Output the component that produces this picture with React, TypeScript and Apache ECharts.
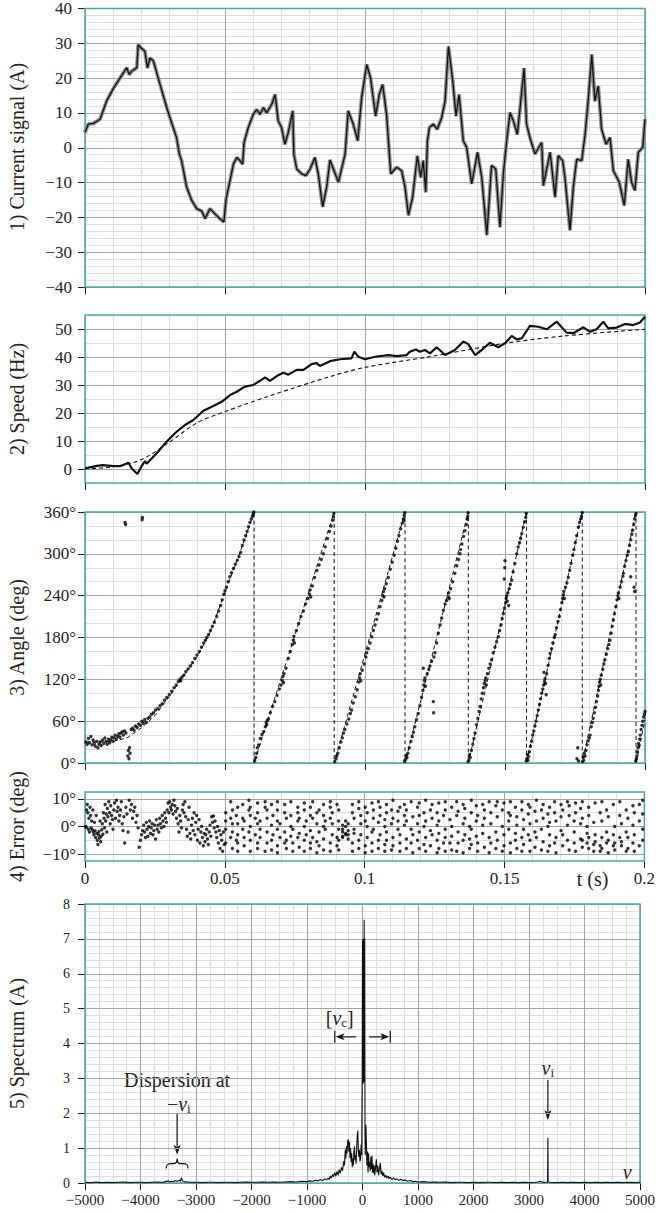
import { useEffect, useRef } from 'react';
import * as echarts from 'echarts';

// ---------------- data ----------------
// 1) current signal (t [s], A)
const currentSignal: [number, number][] = [
  [0, 4.4], [0.0012, 6.8], [0.003, 7.0], [0.0054, 8.2], [0.0077, 13.4], [0.0101, 17], [0.0125, 20], [0.0149, 23],
  [0.0158, 21], [0.0167, 22], [0.0185, 23], [0.019, 29.6], [0.0196, 29], [0.0214, 27.7], [0.0223, 22.9], [0.0232, 25.8],
  [0.0244, 25], [0.0268, 18.2], [0.0292, 11.5], [0.0315, 5.8], [0.0327, 2.9], [0.0337, -1.8], [0.0345, -3.7],
  [0.0363, -11.3], [0.0381, -15.1], [0.0399, -17.5], [0.0417, -18.2], [0.0429, -20.4], [0.0446, -17.5], [0.0464, -19],
  [0.0482, -20.4], [0.0496, -21.3], [0.0504, -14.7], [0.0518, -9.4], [0.053, -4.7], [0.0542, -2.8], [0.0554, -3.7],
  [0.0563, -4.7], [0.0568, 1.5], [0.0583, 5.8], [0.0601, 9.6], [0.0613, 11], [0.0625, 9.6], [0.0637, 11.5], [0.0649, 10],
  [0.0667, 12.5], [0.0679, 15.3], [0.069, 7.7], [0.0702, 5.8], [0.0714, 1], [0.0726, 4.4], [0.0742, 10.6], [0.0746, -1.8],
  [0.0756, -6.1], [0.0774, -7.5], [0.0789, -8], [0.0804, -6.1], [0.0821, -2.8], [0.0833, -7.5], [0.0849, -17],
  [0.0863, -11.3], [0.0875, -3.5], [0.0905, -9.9], [0.0929, -1.8], [0.094, 10.6], [0.0958, 6.8], [0.0974, 2],
  [0.0988, 14.4], [0.1006, 23.9], [0.102, 20], [0.1038, 9.1], [0.1051, 15.3], [0.1063, 18.2], [0.1077, 9.6],
  [0.1092, -7.5], [0.1113, -5.6], [0.1131, -6.6], [0.1143, -11.3], [0.1155, -19.4], [0.117, -14.2], [0.1187, -2.3],
  [0.1199, -8.5], [0.1208, -3.7], [0.1217, -12.8], [0.1223, 2], [0.123, 5.8], [0.1244, 6.8], [0.1258, 5.3], [0.1274, 8.7],
  [0.1286, 13.4], [0.1298, 29.1], [0.1313, 19.5], [0.1325, 9.1], [0.1336, 15.3], [0.1351, 2], [0.1363, 0.1],
  [0.1381, -10.4], [0.1402, -1.3], [0.1417, -8.5], [0.1435, -25.1], [0.1452, -5.1], [0.1467, -6.1], [0.1482, -22.8],
  [0.1494, -7.5], [0.1506, 2], [0.1518, 10.1], [0.153, 7.7], [0.1544, 3.8], [0.1554, 11.5], [0.1568, 22.9], [0.1577, 6.8],
  [0.1589, 2.9], [0.1607, -1.8], [0.1631, 1.5], [0.1637, -10.9], [0.1661, -1.3], [0.1679, -14.2], [0.169, -2.3],
  [0.1706, -3.7], [0.1714, -8.5], [0.1732, -23.7], [0.1744, -11.3], [0.1756, -3.3], [0.1774, -3.7], [0.1786, 3.8],
  [0.1798, 14.4], [0.181, 26.8], [0.1821, 13.4], [0.1833, 17.7], [0.1845, 5.3], [0.1861, 1], [0.1875, 2.9],
  [0.1887, -6.6], [0.1908, -9.9], [0.1926, -16.6], [0.194, -3.3], [0.1952, -9.9], [0.1964, -12.3], [0.1976, -1.3],
  [0.1992, 0.1], [0.2, 8.2],
];

// 2) speed (Hz): estimated and reference
const speedEstimated: [number, number][] = [
  [0, 0.2], [0.0042, 1.1], [0.0065, 1.4], [0.0101, 1.0], [0.0125, 1.0], [0.0149, 2.0], [0.0155, 2.3], [0.0167, 0.2],
  [0.0187, -1.8], [0.0202, 1.0], [0.0214, 2.8], [0.022, 1.9], [0.0256, 5.6], [0.0292, 9.8], [0.0327, 13.3],
  [0.0357, 15.7], [0.0387, 17.5], [0.0423, 20.8], [0.0458, 22.5], [0.0488, 24.0], [0.0518, 26.4], [0.0542, 27.6],
  [0.0571, 29.4], [0.0601, 30.0], [0.0625, 31.5], [0.0643, 32.7], [0.0661, 31.5], [0.0685, 33.2], [0.0708, 34.4],
  [0.0726, 33.7], [0.0756, 35.4], [0.078, 35.4], [0.081, 37.5], [0.0827, 37.8], [0.0839, 36.8], [0.0875, 38.5],
  [0.0911, 39.2], [0.0952, 39.5], [0.0962, 41.9], [0.0976, 40.1], [0.1, 39.2], [0.1036, 40.1], [0.1083, 40.7],
  [0.1113, 40.3], [0.1149, 40.7], [0.116, 41.9], [0.1182, 42.7], [0.1196, 41.9], [0.1214, 42.5], [0.1232, 41.3],
  [0.1256, 43.5], [0.1286, 40.7], [0.1321, 42.5], [0.1351, 45.5], [0.1369, 44.6], [0.1393, 40.7], [0.1417, 42.5],
  [0.1446, 45.1], [0.1476, 43.5], [0.15, 44.9], [0.1524, 47.5], [0.1542, 46.3], [0.156, 46.7], [0.1589, 51.1],
  [0.1619, 50.8], [0.1649, 49.9], [0.1685, 52.6], [0.172, 48.7], [0.1744, 48.5], [0.178, 50.6], [0.1804, 49.0],
  [0.1827, 49.9], [0.1851, 52.6], [0.1869, 50.2], [0.1899, 50.5], [0.1929, 51.8], [0.1958, 51.4], [0.1982, 52.3],
  [0.2, 54.4],
];
const speedReference: [number, number][] = [
  [0, 0], [0.01, 0.8], [0.02, 3.3], [0.03, 9.5], [0.04, 16.5], [0.05, 20.5], [0.065, 25.8], [0.0875, 33],
  [0.1, 36.3], [0.123, 40.1], [0.15, 44.9], [0.171, 47.5], [0.2, 49.9],
];

// 3) angle (deg): reference sawtooth and estimated dots
const angleReference: [number, number][] = [
  [0, 30], [0.01, 31], [0.015, 36], [0.02, 50], [0.025, 68], [0.03, 95], [0.035, 124], [0.04, 152], [0.045, 190],
  [0.05, 245], [0.055, 298], [0.0604, 360], [0.0604, 0], [0.089, 360], [0.089, 0], [0.1143, 360], [0.1143, 0],
  [0.1369, 360], [0.1369, 0], [0.1577, 360], [0.1577, 0], [0.1776, 360], [0.1776, 0], [0.1968, 360], [0.1968, 0],
  [0.2, 62],
];
const angleDots: [number, number][] = [
  [0.0003, 30], [0.0008, 27], [0.0012, 35], [0.0016, 29], [0.0021, 38], [0.0025, 26], [0.0029, 33], [0.0033, 28],
  [0.0037, 24], [0.0042, 31], [0.0046, 22], [0.005, 27], [0.0054, 30], [0.0058, 25], [0.0063, 33], [0.0067, 28],
  [0.0071, 36], [0.0075, 31], [0.0079, 27], [0.0084, 34], [0.0088, 29], [0.0092, 33], [0.0096, 37], [0.01, 31],
  [0.0104, 36], [0.0108, 40], [0.0112, 34], [0.0117, 38], [0.0121, 42], [0.0125, 37], [0.0129, 43], [0.0133, 45],
  [0.0137, 40], [0.0141, 46], [0.0146, 43], [0.0143, 345], [0.0145, 342], [0.0153, 10], [0.0155, 18], [0.0157, 6],
  [0.0159, 22], [0.0161, 14], [0.0165, 48], [0.017, 50], [0.0175, 47], [0.018, 53], [0.0186, 51], [0.0192, 56],
  [0.0198, 54], [0.0204, 349], [0.0205, 352], [0.0203, 60], [0.0208, 57], [0.0213, 62], [0.0219, 58], [0.0225, 64],
  [0.0231, 66], [0.0238, 70], [0.0245, 72], [0.0252, 76], [0.026, 78], [0.0268, 82], [0.0276, 85], [0.0284, 90],
  [0.0292, 94], [0.0301, 98], [0.031, 103], [0.0318, 108], [0.0326, 112], [0.0333, 117], [0.0339, 120], [0.0342, 118],
  [0.0346, 123], [0.0353, 126], [0.036, 131], [0.0368, 135], [0.0376, 139], [0.0384, 144], [0.0392, 150], [0.04, 155],
  [0.0408, 160], [0.0416, 166], [0.0424, 172], [0.043, 176], [0.0435, 180], [0.0441, 184], [0.0448, 190], [0.0455, 196],
  [0.0462, 202], [0.047, 210], [0.0477, 218], [0.0484, 226], [0.049, 234], [0.0496, 242], [0.05, 247], [0.0505, 252],
  [0.0511, 260], [0.0517, 267], [0.0523, 273], [0.053, 279], [0.0537, 285], [0.0544, 291], [0.055, 296], [0.0556, 302],
  [0.0562, 312], [0.0568, 320], [0.0574, 326], [0.0579, 332], [0.0584, 339], [0.0589, 345], [0.0594, 350], [0.0598, 354],
  [0.0601, 357], [0.0603, 360],
  [0.0606, 3], [0.061, 8], [0.0613, 14], [0.0616, 22], [0.062, 26], [0.0626, 35], [0.0632, 41], [0.0638, 45],
  [0.0644, 52], [0.0647, 58], [0.0649, 55], [0.0651, 61], [0.0655, 63], [0.0662, 72], [0.067, 81], [0.0678, 88],
  [0.0686, 97], [0.0694, 106], [0.07, 112], [0.0705, 118], [0.0707, 124], [0.0709, 115], [0.0711, 128], [0.0718, 136],
  [0.0726, 150], [0.0733, 160], [0.074, 170], [0.0744, 176], [0.0746, 182], [0.0748, 172], [0.0755, 190], [0.0763, 200],
  [0.0771, 210], [0.078, 218], [0.0788, 228], [0.0796, 236], [0.0802, 242], [0.0804, 248], [0.0806, 238], [0.0812, 254],
  [0.082, 266], [0.0828, 276], [0.0836, 284], [0.0844, 292], [0.0851, 300], [0.0858, 310], [0.0866, 322], [0.0873, 332],
  [0.0879, 340], [0.0884, 348], [0.0887, 354], [0.0889, 358],
  [0.0892, 2], [0.0896, 6], [0.0899, 10], [0.0903, 14], [0.0908, 22], [0.0914, 30], [0.0919, 36], [0.0923, 43],
  [0.0928, 48], [0.0935, 56], [0.0942, 63], [0.0948, 71], [0.0952, 76], [0.0958, 86], [0.0965, 95], [0.0972, 105],
  [0.0978, 116], [0.0981, 122], [0.0983, 128], [0.0985, 118], [0.099, 133], [0.0997, 142], [0.1003, 152], [0.1006, 158],
  [0.1012, 164], [0.1018, 172], [0.1024, 181], [0.103, 190], [0.1036, 198], [0.1042, 206], [0.1048, 214], [0.1054, 224],
  [0.106, 233], [0.1064, 240], [0.1066, 246], [0.1068, 238], [0.107, 250], [0.1076, 257], [0.1083, 266], [0.109, 278],
  [0.1097, 288], [0.1104, 298], [0.111, 308], [0.1116, 318], [0.1121, 326], [0.1127, 336], [0.1133, 344], [0.1137, 350],
  [0.114, 355], [0.1142, 359], [0.1139, 347],
  [0.1141, 3], [0.1145, 5], [0.1147, 11], [0.115, 8], [0.1153, 14], [0.1158, 22], [0.1164, 31], [0.1169, 38],
  [0.1173, 44], [0.1178, 52], [0.1184, 62], [0.119, 71], [0.1196, 82], [0.1202, 94], [0.1207, 104], [0.121, 112],
  [0.1212, 118], [0.1214, 122], [0.1216, 110], [0.1208, 136], [0.1222, 128], [0.1228, 134], [0.1232, 139], [0.1238, 146],
  [0.1244, 88], [0.1245, 72], [0.1246, 152], [0.125, 158], [0.1256, 172], [0.1262, 186], [0.1268, 198], [0.1274, 208],
  [0.128, 219], [0.1286, 228], [0.1292, 233], [0.1297, 238], [0.1299, 244], [0.1301, 236], [0.1306, 250], [0.1313, 260],
  [0.1321, 272], [0.1328, 283], [0.1334, 292], [0.1339, 300], [0.1341, 306], [0.1346, 314], [0.1352, 325], [0.1357, 333],
  [0.1362, 342], [0.1365, 350], [0.1367, 354], [0.1368, 359],
  [0.1368, 2], [0.1371, 4], [0.1373, 12], [0.1376, 8], [0.138, 18], [0.1385, 27], [0.1389, 35], [0.1393, 43],
  [0.1398, 55], [0.1403, 64], [0.1408, 74], [0.1411, 81], [0.1415, 92], [0.1419, 100], [0.1423, 108], [0.1426, 114],
  [0.1429, 118], [0.1431, 122], [0.1433, 112], [0.1437, 128], [0.1442, 136], [0.1447, 142], [0.1452, 148], [0.1458, 158],
  [0.1464, 166], [0.147, 174], [0.1476, 181], [0.1481, 190], [0.1486, 198], [0.149, 207], [0.1494, 214], [0.1498, 222],
  [0.1502, 230], [0.1504, 236], [0.1506, 240], [0.1508, 232], [0.1497, 264], [0.1499, 280], [0.15, 290], [0.151, 244],
  [0.1513, 226], [0.1515, 250], [0.1519, 256], [0.1524, 262], [0.1529, 274], [0.1535, 286], [0.1542, 300], [0.1547, 310],
  [0.1552, 316], [0.1556, 322], [0.156, 329], [0.1565, 338], [0.157, 346], [0.1574, 352], [0.1576, 358],
  [0.1576, 3], [0.1578, 6], [0.158, 12], [0.1582, 4], [0.1584, 9], [0.1587, 16], [0.1591, 24], [0.1595, 31],
  [0.1599, 40], [0.1603, 46], [0.1607, 53], [0.1611, 60], [0.1615, 68], [0.1619, 76], [0.1623, 84], [0.1627, 92],
  [0.1631, 100], [0.1635, 106], [0.1638, 112], [0.1641, 117], [0.1643, 121], [0.1645, 114], [0.1639, 130], [0.1647, 98],
  [0.1649, 128], [0.1654, 140], [0.1658, 150], [0.1661, 157], [0.1666, 164], [0.1671, 172], [0.1676, 180], [0.1679, 184],
  [0.1684, 194], [0.1689, 203], [0.1694, 210], [0.1698, 220], [0.1703, 230], [0.1706, 236], [0.1708, 241], [0.171, 246],
  [0.1712, 236], [0.1716, 252], [0.1721, 258], [0.1726, 266], [0.1731, 276], [0.1736, 286], [0.1742, 298], [0.1746, 306],
  [0.1751, 316], [0.1756, 326], [0.1762, 338], [0.1766, 345], [0.177, 350], [0.1773, 354], [0.1776, 359],
  [0.1757, 6], [0.176, 22], [0.1763, 3],
  [0.1777, 2], [0.1779, 8], [0.1781, 4], [0.1783, 14], [0.1786, 10], [0.1789, 18], [0.1793, 26], [0.1797, 32],
  [0.1801, 36], [0.1804, 40], [0.1808, 52], [0.1812, 58], [0.1815, 64], [0.1819, 72], [0.1823, 80], [0.1827, 88],
  [0.1831, 96], [0.1834, 104], [0.1836, 110], [0.1838, 116], [0.184, 120], [0.1842, 112], [0.1844, 126], [0.1849, 134],
  [0.1853, 142], [0.1857, 148], [0.1862, 156], [0.1867, 164], [0.1871, 170], [0.1875, 176], [0.1879, 186], [0.1883, 196],
  [0.1887, 205], [0.1891, 214], [0.1896, 224], [0.19, 234], [0.1903, 240], [0.1905, 244], [0.1907, 236], [0.1911, 252],
  [0.1916, 260], [0.1921, 268], [0.1923, 272], [0.1927, 282], [0.1932, 290], [0.1937, 298], [0.1941, 303], [0.1945, 312],
  [0.1949, 267], [0.1961, 252], [0.1963, 246], [0.1949, 320], [0.1953, 328], [0.1956, 334], [0.196, 342], [0.1963, 350],
  [0.1966, 355], [0.1968, 358],
  [0.1967, 3], [0.1969, 6], [0.1971, 10], [0.1973, 16], [0.1975, 22], [0.1977, 28], [0.1979, 25], [0.1981, 34],
  [0.1983, 40], [0.1986, 48], [0.1989, 54], [0.1992, 60], [0.1995, 66], [0.1998, 70], [0.2, 74],
];

// 4) angle error (deg): early dots, then vertical streaks [t, values at that t]
const errorEarly: [number, number][] = [
  [0.0002, 0], [0.0004, -0.3], [0.0006, 6], [0.0008, 8], [0.001, 5], [0.0012, -1], [0.0014, 3], [0.0016, -2],
  [0.0018, 7], [0.002, 4], [0.0022, -0.5], [0.0024, 2], [0.0026, -1.2], [0.0028, 6], [0.003, -2], [0.0032, -3],
  [0.0034, 1.5], [0.0036, -1.5], [0.0038, -4], [0.004, 4], [0.0042, -2.5], [0.0044, -5], [0.0046, -6.5], [0.0048, -3],
  [0.005, -1.8], [0.0052, -4.2], [0.0054, 2], [0.0056, -5.5], [0.0058, -3.5], [0.006, -1.2], [0.0062, 1], [0.0064, -2.8],
  [0.0066, 5], [0.0068, 3], [0.007, -0.5], [0.0072, 8], [0.0074, 2], [0.0076, 4.5], [0.0078, -2], [0.008, 6.5],
  [0.0082, 3.5], [0.0085, 9], [0.0088, 5], [0.009, 1], [0.0092, 7.5], [0.0095, 4], [0.0098, 2.5], [0.01, -1],
  [0.0103, 6], [0.0106, 8.5], [0.0109, 3], [0.0112, 9.5], [0.0115, 5.5], [0.0118, 7], [0.0121, 2], [0.0124, 4],
  [0.0127, 6], [0.013, 9], [0.0133, 1], [0.0136, -1.5], [0.0139, 3.5], [0.0142, -6], [0.0146, 7], [0.015, 4.5],
  [0.0154, -2], [0.0158, 9.5], [0.0162, 6], [0.0166, 8], [0.017, 3], [0.0174, 5.5], [0.0178, 7], [0.0182, 1.5],
  [0.0186, 4], [0.019, -0.5], [0.0194, -7.5], [0.0198, -5], [0.0202, -3], [0.0206, -1.5], [0.021, 0.5], [0.0213, -2],
  [0.0216, -4], [0.0219, 1.5], [0.0222, -1], [0.0225, -3.5], [0.0228, 0], [0.0231, 2], [0.0234, -2.5], [0.0237, -0.5],
  [0.024, 1], [0.0243, -3], [0.0246, -1.5], [0.0249, 0.5], [0.0252, -4.5], [0.0255, 2.5], [0.0258, -1], [0.0261, 0.5],
  [0.0264, -2], [0.0267, 3], [0.027, 1], [0.0273, -0.5], [0.0276, 4], [0.0279, 2], [0.0282, 0], [0.0285, 5],
  [0.0288, 3], [0.0291, 1.5], [0.0294, 6], [0.0297, 8.5], [0.03, 5], [0.0303, 9], [0.0306, 7], [0.0309, 6],
  [0.0312, 8], [0.0315, 4.5], [0.0318, 9.5], [0.0321, 7.5], [0.0324, 5.5], [0.0327, 3], [0.033, 6.5], [0.0333, 1],
  [0.0336, -2], [0.0339, 4], [0.0342, 2], [0.0345, -0.5], [0.0348, 6], [0.0351, 8], [0.0354, 5], [0.0357, 9],
  [0.036, 3.5], [0.0363, -1], [0.0366, -3.5], [0.0369, 2.5], [0.0372, 7], [0.0375, -2.5], [0.0378, -4.5], [0.0381, 0.5],
  [0.0384, 3], [0.0387, -1.5], [0.039, 5], [0.0393, -3], [0.0396, 1.5], [0.0399, 4], [0.0402, -5], [0.0405, -1],
  [0.0408, 2.5], [0.0411, -6], [0.0414, -2], [0.0417, 0], [0.042, -4], [0.0423, -7], [0.0426, -2.5], [0.0429, -5.5],
  [0.0432, -3], [0.0435, -1], [0.0438, -4.5], [0.0441, -6.5], [0.0444, -2], [0.0447, 0.5], [0.045, -3.5], [0.0453, 3.5],
  [0.0456, 1.5], [0.0459, 3.8], [0.0462, -0.5], [0.0465, 2], [0.0468, -2], [0.0471, -4], [0.0474, 0], [0.0477, -6],
  [0.048, -1.5], [0.0483, -8], [0.0486, -3], [0.0489, -5], [0.0492, -9], [0.0495, -2], [0.0498, -6.5],
];
const errorStreaks: [number, number[]][] = [
  [0.0503, [5, 2, -1, -6]], [0.0521, [9, 3, -4]], [0.0527, [-2, -8, 1, 6]], [0.0541, [4, -5]],
  [0.0546, [7, 1, -3, -9, -6]], [0.0564, [-1, 3, 8]], [0.0569, [-7, -4, 2]], [0.0586, [9.5, 6, -2]],
  [0.0591, [-9, -5, 0, 4, 7]], [0.0609, [3, -3]], [0.0617, [-8, -6, 1, 5, 8.5]], [0.0626, [2, -1, -4]],
  [0.0644, [7, 9, -9]], [0.0651, [-6, -2, 3, 6]], [0.0667, [8, 0.5, -5, -8.5]], [0.0672, [4, -3]],
  [0.0688, [-9.5, -7, -1, 2, 6, 9]], [0.0697, [1, -4]], [0.0714, [5, 8, -2, -6]], [0.072, [-8, -5, 3]],
  [0.0736, [9, 4, 0, -3.5]], [0.0743, [-9, -6, -1]], [0.0761, [7, 2, -4, 5]], [0.0766, [-7.5, -2.5, 3]],
  [0.0784, [8.5, 6, 0, -5, -9]], [0.0791, [2, -3]], [0.0806, [-8, -6, -1.5, 4, 7]], [0.0814, [9, 3, -4]],
  [0.0829, [-9.5, -5.5, 1, 5]], [0.0837, [6, -2, -7]], [0.0853, [8, 4, 0, -4.5, -8.5]], [0.0859, [-1, 2]],
  [0.0877, [-9, -6, 3, 7, 9]], [0.0884, [-3, 1, 5]], [0.0901, [-7, -4, 8]], [0.0907, [6, 2, -1, -5, -8.5]],
  [0.0921, [-2, -3.5, -1, 0.5, -4]], [0.0932, [-2.5, -3, 0, 2]], [0.0941, [-1.5, -4.5, 1, -3]], [0.0956, [8, 5, -6, -9]],
  [0.0962, [3, -1, -2.5]], [0.0979, [9, 6.5, -5, -8]], [0.0986, [1, -3, 4]], [0.1002, [-9.5, -7, 2, 7]],
  [0.1009, [5, 0, -4]], [0.1026, [8.5, -2, -6, -9]], [0.1031, [3, 6, -1]], [0.1049, [-8, -5, 1.5, 9]],
  [0.1055, [4, -3, 7]], [0.1072, [-9, -6.5, 0, 2.5]], [0.1078, [8, 5, -2, -5]], [0.1096, [-8.5, 1, 6]],
  [0.1101, [9.5, 3, -4, -7]], [0.1119, [-1, 2, 5.5]], [0.1126, [-9, -6, -3, 7]], [0.1142, [8, 4, 0.5]],
  [0.1149, [-8, -4.5, 2, 6]], [0.1166, [9, -1, -6]], [0.1172, [3.5, -3, -9.5]], [0.1189, [7, 1, -5]],
  [0.1195, [-8, -2, 4, 8.5]], [0.1212, [5, 0, -6.5]], [0.1218, [-9, -4, 2, 9.5]], [0.1235, [6, -1.5, -7]],
  [0.1241, [3, -3, 8]], [0.1259, [-9.5, -5, 0.5, 5]], [0.1265, [8.5, 2, -2.5, -8]], [0.1282, [-6, 4]],
  [0.1288, [9, 6, -1, -4, -9]], [0.1305, [2.5, -6]], [0.1311, [7, 0, -3.5, -8.5]], [0.1329, [-9, 4, 9]],
  [0.1334, [5.5, -2, -6]], [0.1352, [8, 1, -5, -9.5]], [0.1358, [-3, 3, 6.5]], [0.1375, [-8, -4.5, 0]],
  [0.1381, [9.5, 5, -1, -6.5]], [0.1399, [2, -3.5, 7.5]], [0.1404, [-9, -6, 4]], [0.1422, [8, 0.5, -2.5]],
  [0.1428, [-7.5, 3, 6]], [0.1445, [9, -4, -9.5]], [0.1451, [5, 1, -6]], [0.1469, [-8, -2, 7.5]],
  [0.1474, [3.5, -5, 9]], [0.1492, [-9, 0, 6]], [0.1498, [8.5, -3, -7]], [0.1515, [2, 5, -1]],
  [0.1521, [-9.5, -6, 4, 9]], [0.1539, [7, -2.5, -5]], [0.1544, [0.5, 3.5, -8]], [0.1562, [9, 6, -4, -9]],
  [0.1568, [-6.5, -1, 2.5]], [0.1585, [8, 4.5, -3]], [0.1591, [-9, -5, 1, 7]], [0.1609, [5.5, -2, -7.5]],
  [0.1614, [9.5, 2, -4]], [0.1632, [-8.5, -1, 6]], [0.1638, [3, -5.5, 8]], [0.1655, [-9, 0, 4.5]],
  [0.1661, [7, 1.5, -3, -7]], [0.1679, [-6, 5, 9]], [0.1684, [-9.5, -4, 2]], [0.1702, [8, 3.5, -1.5]],
  [0.1708, [-7, -3, 6]], [0.1725, [9, 0.5, -5]], [0.1731, [-8.5, 4, 7.5]], [0.1749, [2, -2, -6]],
  [0.1754, [8.5, 5, -9]], [0.1772, [-4.5, 1, 6.5]], [0.1778, [-7.5, -5, 3, 9]], [0.1795, [-2.5, -6, 0]],
  [0.1801, [7, 4, -4, -8]], [0.1819, [-9, -6.5, 1.5]], [0.1824, [8.5, -3, -5.5]], [0.1842, [5, -7, -9]],
  [0.1848, [2, -4, -8, 9]], [0.1865, [-6, -2, 6]], [0.1871, [-9.5, -5, 3.5]], [0.1889, [8, -3, -7]],
  [0.1894, [0, -6, -8.5]], [0.1912, [4, -4, 9]], [0.1918, [-7, -5.5, 1]], [0.1935, [6, -2, -9]],
  [0.1941, [-8, -4, 3]], [0.1959, [7.5, -6, 0.5]], [0.1964, [-9, -3, 5]], [0.1982, [2, -7, 8]],
  [0.1994, [-5, -1, 4.5, 9.5]],
];

// 5) spectrum (Hz, A)
const spectrum: [number, number][] = [
  [-5000, 0.02], [-4900, 0.01], [-4800, 0.03], [-4700, 0.01], [-4600, 0.02], [-4500, 0.01], [-4400, 0.02],
  [-4300, 0.03], [-4200, 0.01], [-4100, 0.02], [-4000, 0.02], [-3900, 0.01], [-3800, 0.02], [-3700, 0.03],
  [-3600, 0.02], [-3550, 0.04], [-3500, 0.06], [-3480, 0.03], [-3450, 0.05], [-3400, 0.04], [-3380, 0.07],
  [-3350, 0.05], [-3320, 0.06], [-3300, 0.08], [-3280, 0.05], [-3265, 0.15], [-3250, 0.09], [-3230, 0.05],
  [-3200, 0.04], [-3150, 0.03], [-3100, 0.02], [-3000, 0.02], [-2900, 0.01], [-2800, 0.02], [-2700, 0.02],
  [-2600, 0.01], [-2500, 0.02], [-2400, 0.02], [-2300, 0.01], [-2200, 0.02], [-2100, 0.03], [-2000, 0.02],
  [-1900, 0.02], [-1800, 0.03], [-1700, 0.02], [-1600, 0.03], [-1500, 0.02], [-1400, 0.03], [-1300, 0.04],
  [-1200, 0.03], [-1100, 0.05], [-1000, 0.04], [-950, 0.06], [-900, 0.05], [-850, 0.08], [-800, 0.06], [-760, 0.1],
  [-720, 0.07], [-680, 0.12], [-650, 0.09], [-620, 0.14], [-600, 0.1], [-580, 0.2], [-560, 0.14], [-540, 0.25],
  [-520, 0.18], [-500, 0.3], [-480, 0.2], [-460, 0.33], [-440, 0.22], [-420, 0.38], [-400, 0.28], [-380, 0.45],
  [-360, 0.35], [-340, 0.62], [-325, 0.5], [-310, 0.95], [-300, 0.7], [-290, 1.05], [-280, 0.85], [-265, 1.22],
  [-255, 1.25], [-245, 0.9], [-235, 1.18], [-225, 0.72], [-215, 1.0], [-205, 0.6], [-195, 0.85], [-185, 0.45],
  [-175, 0.7], [-165, 0.5], [-155, 0.9], [-145, 1.05], [-135, 0.65], [-125, 0.8], [-115, 0.55], [-105, 1.0],
  [-95, 1.35], [-85, 1.5], [-75, 0.9], [-65, 0.75], [-55, 0.95], [-45, 0.62], [-35, 0.7], [-25, 1.1], [-15, 0.8],
  [-5, 3.2], [0, 6.95], [5, 2.9], [10, 7.0], [15, 2.85], [20, 6.9], [25, 3.0], [30, 7.55], [35, 2.9], [40, 7.0],
  [45, 1.5], [50, 0.8], [60, 1.67], [70, 1.2], [80, 0.5], [90, 0.9], [100, 0.3], [110, 0.85], [120, 0.45], [130, 0.6],
  [140, 0.35], [150, 0.75], [160, 0.4], [170, 0.78], [180, 0.3], [190, 0.55], [200, 0.28], [210, 0.5], [220, 0.22],
  [235, 0.45], [250, 0.68], [262, 0.3], [275, 0.5], [290, 0.22], [305, 0.4], [320, 0.58], [335, 0.25], [350, 0.35],
  [365, 0.2], [380, 0.3], [400, 0.16], [420, 0.22], [440, 0.14], [460, 0.2], [480, 0.12], [500, 0.17], [530, 0.1],
  [560, 0.15], [590, 0.09], [620, 0.12], [650, 0.08], [690, 0.1], [730, 0.07], [770, 0.09], [810, 0.05], [860, 0.07],
  [900, 0.04], [950, 0.05], [1000, 0.03], [1100, 0.04], [1200, 0.02], [1300, 0.03], [1400, 0.02], [1500, 0.03],
  [1600, 0.01], [1700, 0.02], [1800, 0.02], [1900, 0.01], [2000, 0.02], [2100, 0.01], [2200, 0.02], [2300, 0.02],
  [2400, 0.01], [2500, 0.02], [2600, 0.01], [2700, 0.02], [2800, 0.01], [2900, 0.02], [3000, 0.01], [3100, 0.02],
  [3150, 0.03], [3200, 0.05], [3250, 0.02], [3300, 0.02], [3335, 0.03], [3340, 1.3], [3345, 0.03], [3400, 0.02],
  [3500, 0.01], [3600, 0.02], [3700, 0.01], [3800, 0.02], [3900, 0.01], [4000, 0.02], [4100, 0.01], [4200, 0.02],
  [4300, 0.01], [4400, 0.02], [4500, 0.01], [4600, 0.02], [4700, 0.01], [4800, 0.02], [4900, 0.01], [5000, 0.02],
];

// tick values
const timeTicks = [0, 0.05, 0.1, 0.15, 0.2];
const currentTicks = [-40, -30, -20, -10, 0, 10, 20, 30, 40];
const speedTicks = [0, 10, 20, 30, 40, 50];
const angleTicks = [0, 60, 120, 180, 240, 300, 360];
const errorTicks = [-10, 0, 10];
const spectrumYTicks = [0, 1, 2, 3, 4, 5, 6, 7, 8];
const freqTicks = [-5000, -4000, -3000, -2000, -1000, 0, 1000, 2000, 3000, 4000, 5000];

const titles = ['1) Current signal (A)', '2) Speed (Hz)', '3) Angle (deg)', '4) Error (deg)', '5) Spectrum (A)'];

// annotation anchors (spectrum units)
const NU_I = 3340;
const NU_C = 500;

// ---------------- style ----------------
const TEAL = '#4aa9a9';
const MAJ = '#a3a3a3';
const MIN = '#dedede';
const TXT = '#222';
const NUMFONT = 'Liberation Serif';
const TFONT = 'Liberation Serif';

const GRIDS = [
  { top: 7, height: 280 },
  { top: 315, height: 168 },
  { top: 512, height: 251 },
  { top: 792, height: 69 },
  { top: 904, height: 279 },
];

echarts.graphic.registerShape(
  'brace',
  echarts.graphic.extendPath('M0,10 C0,5.5 2,5 5,5 L8,5 C10,5 11,3 11,0 C11,3 12,5 14,5 L17,5 C20,5 22,5.5 22,10', {})
);

function steps(a: number, b: number, s: number, skip: number[] = []): number[] {
  const out: number[] = [];
  const n = Math.round((b - a) / s);
  for (let i = 0; i <= n; i++) {
    const v = Math.round((a + i * s) * 1e6) / 1e6;
    if (!skip.some((k) => Math.abs(k - v) < 1e-9)) out.push(v);
  }
  return out;
}

const minus = (v: number) => String(v).replace('-', '\u2212');

function axes(dim: 'x' | 'y', g: number, min: number, max: number, majors: number[], minors: number[], label: any) {
  const pos = dim === 'x' ? 'bottom' : 'left';
  const major = {
    type: 'value', gridIndex: g, min, max, position: pos, z: 1,
    axisLine: { show: false, onZero: false },
    axisTick: { show: true, customValues: majors, length: 7, lineStyle: { color: '#1a1a1a', width: 1 } },
    axisLabel: label
      ? { show: true, customValues: majors, color: TXT, fontFamily: NUMFONT, ...label }
      : { show: false, customValues: majors },
    splitLine: { show: true, lineStyle: { color: MAJ, width: 1 } },
    minorTick: { show: false }, minorSplitLine: { show: false },
  };
  const minor = {
    type: 'value', gridIndex: g, min, max, position: pos, z: 0,
    axisLine: { show: false, onZero: false },
    axisTick: { show: false, customValues: minors },
    axisLabel: { show: false, customValues: minors },
    splitLine: { show: true, lineStyle: { color: MIN, width: 1 } },
  };
  return [major, minor];
}

function buildOption() {
  const tMinor = steps(0, 0.2, 0.01, timeTicks);
  const xAxis: any[] = [
    ...axes('x', 0, 0, 0.2, timeTicks, tMinor, null),
    ...axes('x', 1, 0, 0.2, timeTicks, tMinor, null),
    ...axes('x', 2, 0, 0.2, timeTicks, tMinor, null),
    ...axes('x', 3, 0, 0.2, timeTicks, tMinor, { fontSize: 17, margin: 9 }),
    ...axes('x', 4, -5000, 5000, freqTicks, steps(-5000, 5000, 250, freqTicks), { fontSize: 15, margin: 9, formatter: minus }),
  ];
  const yAxis: any[] = [
    ...axes('y', 0, -40, 40, currentTicks, steps(-40, 40, 2, currentTicks), { fontSize: 17, margin: 13, formatter: minus }),
    ...axes('y', 1, -5, 55, speedTicks, [5, 15, 25, 35, 45], { fontSize: 17, margin: 13 }),
    ...axes('y', 2, 0, 360, angleTicks, steps(0, 360, 20, angleTicks), { fontSize: 17, margin: 9, formatter: (v: number) => v + '\u00b0' }),
    ...axes('y', 3, -12.5, 12.5, errorTicks, [-5, 5], { fontSize: 17, margin: 9, formatter: (v: number) => minus(v) + '\u00b0' }),
    ...axes('y', 4, 0, 8, spectrumYTicks, steps(0, 8, 0.2, spectrumYTicks), { fontSize: 14, margin: 15 }),
  ];
  const grid = GRIDS.map((g) => ({
    left: 85, width: 560, top: g.top, height: g.height, show: true, z: 2,
    borderColor: TEAL, borderWidth: 1.5, backgroundColor: 'transparent',
  }));
  const errorDots: [number, number][] = [...errorEarly];
  errorStreaks.forEach(([t, vals]) => vals.forEach((v) => errorDots.push([t, v])));
  const black = '#111';
  const series: any[] = [
    { type: 'line', xAxisIndex: 0, yAxisIndex: 0, data: currentSignal, showSymbol: false, silent: true, z: 3,
      lineStyle: { color: '#8f8f8f', width: 3.8 } },
    { type: 'line', xAxisIndex: 0, yAxisIndex: 0, data: currentSignal, showSymbol: false, silent: true, z: 4,
      lineStyle: { color: black, width: 1.3 } },
    { type: 'line', xAxisIndex: 2, yAxisIndex: 2, data: speedReference, showSymbol: false, silent: true, z: 3, smooth: 0.3,
      lineStyle: { color: black, width: 1.1, type: [4, 3] } },
    { type: 'line', xAxisIndex: 2, yAxisIndex: 2, data: speedEstimated, showSymbol: false, silent: true, z: 4,
      lineStyle: { color: black, width: 2.2 } },
    { type: 'line', xAxisIndex: 4, yAxisIndex: 4, data: angleReference, showSymbol: false, silent: true, z: 3,
      lineStyle: { color: black, width: 1, type: [4, 3] } },
    { type: 'scatter', xAxisIndex: 4, yAxisIndex: 4, data: angleDots, symbolSize: 3.4, silent: true, z: 4,
      itemStyle: { color: '#000' } },
    { type: 'scatter', xAxisIndex: 6, yAxisIndex: 6, data: errorDots, symbolSize: 3.4, silent: true, z: 4,
      itemStyle: { color: '#000' } },
    { type: 'line', xAxisIndex: 8, yAxisIndex: 8, data: spectrum, showSymbol: false, silent: true, z: 4,
      lineStyle: { color: black, width: 1.1 } },
  ];
  return { animation: false, backgroundColor: '#fff', textStyle: { fontFamily: NUMFONT }, grid, xAxis, yAxis, series };
}

export default function App() {
  const ref = useRef<HTMLDivElement>(null);
  useEffect(() => {
    if (!ref.current) return;
    const chart = echarts.init(ref.current, null, { renderer: 'svg', width: 658, height: 1213 });
    chart.setOption(buildOption());

    const sp = (x: number, y: number) => chart.convertToPixel({ xAxisIndex: 8, yAxisIndex: 8 }, [x, y]) as number[];
    const tp = (x: number, y: number) => chart.convertToPixel({ xAxisIndex: 6, yAxisIndex: 6 }, [x, y]) as number[];
    const ink = '#111';
    const g: any[] = [];

    titles.forEach((t, i) => {
      const G = GRIDS[i];
      g.push({ type: 'text', x: 17, y: G.top + G.height / 2, rotation: Math.PI / 2, silent: true,
        style: { text: t, fontFamily: TFONT, fontSize: 20, fill: TXT, textAlign: 'center', textVerticalAlign: 'middle' } });
    });

    // t (s)
    const tl = tp(0.1815, -12.5);
    g.push({ type: 'text', x: tl[0], y: tl[1] + 18, silent: true,
      style: { text: 't (s)', fontFamily: TFONT, fontSize: 20, fill: TXT, textAlign: 'center', textVerticalAlign: 'middle' } });

    const rich = {
      r: { fontFamily: TFONT, fontSize: 20, lineHeight: 22, fill: TXT },
      n: { fontFamily: TFONT, fontSize: 20, fontStyle: 'italic', lineHeight: 22, fill: TXT },
      s: { fontFamily: TFONT, fontSize: 13, lineHeight: 13, verticalAlign: 'bottom', fill: TXT },
    };

    // Dispersion at -nu_i
    const d1 = sp(-NU_I, 2.96);
    g.push({ type: 'text', x: d1[0], y: d1[1], silent: true,
      style: { text: 'Dispersion at', fontFamily: TFONT, fontSize: 20, fill: TXT, textAlign: 'center', textVerticalAlign: 'middle' } });
    const d2 = sp(-NU_I + 30, 2.27);
    g.push({ type: 'text', x: d2[0], y: d2[1], silent: true,
      style: { text: '{r|\u2212}{n|\u03bd}{s|i}', rich, textAlign: 'center', textVerticalAlign: 'middle' } });
    const a1 = sp(-NU_I, 1.98);
    const a2 = sp(-NU_I, 0.81);
    g.push({ type: 'line', silent: true, shape: { x1: a1[0], y1: a1[1], x2: a2[0], y2: a2[1] - 8 }, style: { stroke: ink, lineWidth: 1.2 } });
    g.push({ type: 'polygon', silent: true, shape: { points: [[a2[0], a2[1]], [a2[0] - 3.5, a2[1] - 10], [a2[0], a2[1] - 7.5], [a2[0] + 3.5, a2[1] - 10]] }, style: { fill: ink } });
    const b = sp(-NU_I, 0.7);
    g.push({ type: 'brace', silent: true, x: b[0] - 11, y: b[1], style: { fill: 'none', stroke: ink, lineWidth: 1.2 } });

    // [nu_c] interval
    const c0 = sp(-410, 4.74);
    g.push({ type: 'text', x: c0[0], y: c0[1], silent: true,
      style: { text: '{r|[}{n|\u03bd}{s|c}{r|]}', rich, textAlign: 'center', textVerticalAlign: 'middle' } });
    const L = sp(-NU_C, 4.19);
    const Li = sp(-120, 4.19);
    const R = sp(NU_C, 4.19);
    const Ri = sp(120, 4.19);
    const y0 = L[1];
    g.push({ type: 'line', silent: true, shape: { x1: L[0], y1: y0 - 6, x2: L[0], y2: y0 + 6 }, style: { stroke: ink, lineWidth: 1.2 } });
    g.push({ type: 'line', silent: true, shape: { x1: L[0] + 6, y1: y0, x2: Li[0], y2: y0 }, style: { stroke: ink, lineWidth: 1.2 } });
    g.push({ type: 'polygon', silent: true, shape: { points: [[L[0] + 1, y0], [L[0] + 10, y0 - 3.5], [L[0] + 7.5, y0], [L[0] + 10, y0 + 3.5]] }, style: { fill: ink } });
    g.push({ type: 'line', silent: true, shape: { x1: R[0], y1: y0 - 6, x2: R[0], y2: y0 + 6 }, style: { stroke: ink, lineWidth: 1.2 } });
    g.push({ type: 'line', silent: true, shape: { x1: Ri[0], y1: y0, x2: R[0] - 6, y2: y0 }, style: { stroke: ink, lineWidth: 1.2 } });
    g.push({ type: 'polygon', silent: true, shape: { points: [[R[0] - 1, y0], [R[0] - 10, y0 - 3.5], [R[0] - 7.5, y0], [R[0] - 10, y0 + 3.5]] }, style: { fill: ink } });

    // nu_i
    const n1 = sp(NU_I, 3.3);
    g.push({ type: 'text', x: n1[0], y: n1[1], silent: true,
      style: { text: '{n|\u03bd}{s|i}', rich, textAlign: 'center', textVerticalAlign: 'middle' } });
    const n2 = sp(NU_I, 2.96);
    const n3 = sp(NU_I, 1.81);
    g.push({ type: 'line', silent: true, shape: { x1: n2[0], y1: n2[1], x2: n3[0], y2: n3[1] - 8 }, style: { stroke: ink, lineWidth: 1.2 } });
    g.push({ type: 'polygon', silent: true, shape: { points: [[n3[0], n3[1]], [n3[0] - 3.5, n3[1] - 10], [n3[0], n3[1] - 7.5], [n3[0] + 3.5, n3[1] - 10]] }, style: { fill: ink } });

    // nu axis label
    const nu = sp(4770, 0.32);
    g.push({ type: 'text', x: nu[0], y: nu[1], silent: true,
      style: { text: '\u03bd', fontFamily: TFONT, fontStyle: 'italic', fontSize: 20, fill: TXT, textAlign: 'center', textVerticalAlign: 'middle' } });

    chart.setOption({ graphic: g });
    return () => chart.dispose();
  }, []);
  return <div ref={ref} style={{ position: 'fixed', left: 0, top: 0, width: 658, height: 1213, background: '#fff' }} />;
}
